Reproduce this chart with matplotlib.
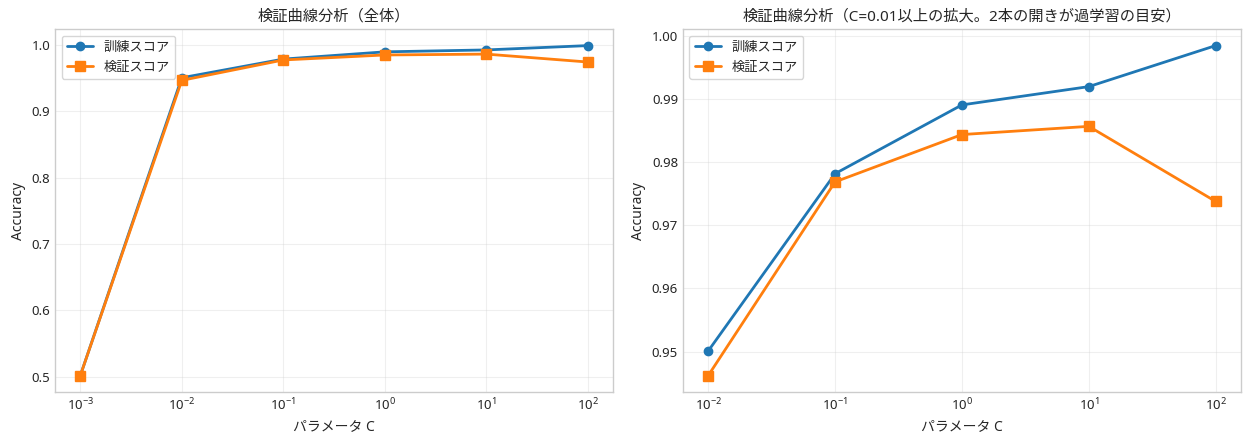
import numpy as np
import matplotlib.pyplot as plt

plt.style.use('seaborn-v0_8-whitegrid')
plt.rcParams['font.family'] = ['Noto Sans', 'Noto Sans CJK JP', 'DejaVu Sans']
plt.rcParams['axes.unicode_minus'] = False
plt.rcParams['axes.titlesize'] = 11
plt.rcParams['axes.labelsize'] = 10
plt.rcParams['xtick.labelsize'] = 9.5
plt.rcParams['ytick.labelsize'] = 9.5
plt.rcParams['legend.fontsize'] = 9.5

# data
C_values = [0.001, 0.01, 0.1, 1, 10, 100]
train_scores = [0.502, 0.9501, 0.9782, 0.9891, 0.9920, 0.9985]
val_scores = [0.502, 0.9462, 0.9769, 0.9844, 0.9857, 0.9738]

fig, axes = plt.subplots(1, 2, figsize=(12.49, 4.41), dpi=100)
fig.subplots_adjust(left=0.044, right=0.9936, bottom=0.111, top=0.934, wspace=0.125)

ax = axes[0]
ax.semilogx(C_values, train_scores, 'o-', color='#1f77b4', lw=2, ms=6, label='訓練スコア')
ax.semilogx(C_values, val_scores, 's-', color='#ff7f0e', lw=2, ms=6.5, label='検証スコア')
ax.set_xlabel('パラメータ C')
ax.set_ylabel('Accuracy')
ax.set_title('検証曲線分析（全体）')
ax.legend(loc='upper left', frameon=True)
ax.grid(True, alpha=0.3)

ax = axes[1]
ax.semilogx(C_values[1:], train_scores[1:], 'o-', color='#1f77b4', lw=2, ms=6, label='訓練スコア')
ax.semilogx(C_values[1:], val_scores[1:], 's-', color='#ff7f0e', lw=2, ms=6.5, label='検証スコア')
ax.set_xlabel('パラメータ C')
ax.set_ylabel('Accuracy')
ax.set_title('検証曲線分析（C=0.01以上の拡大。2本の開きが過学習の目安）')
ax.legend(loc='upper left', frameon=True)
ax.grid(True, alpha=0.3)

plt.savefig('out.png', dpi=100)
